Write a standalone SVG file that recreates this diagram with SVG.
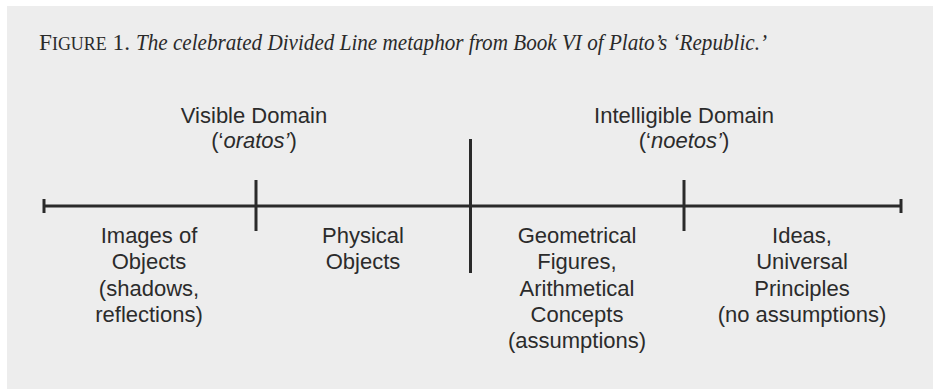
<svg xmlns="http://www.w3.org/2000/svg" width="933" height="389" viewBox="0 0 933 389">
<style>
.cap{font-family:"Liberation Serif","Times New Roman",serif;fill:#2a2a2a}
.lbl{font-family:"Liberation Sans",Arial,sans-serif;font-size:22px;fill:#2b2b2b;text-anchor:middle}
.ln{stroke:#2a2a2a;stroke-width:3;fill:none}
</style>
<rect x="0" y="0" width="933" height="389" fill="#ffffff"/>
<rect x="7" y="6" width="926" height="383" fill="#ededed"/>
<g id="caption">
<text class="cap" x="39" y="50" font-size="24" textLength="91" lengthAdjust="spacingAndGlyphs">F<tspan font-size="18.5">IGURE</tspan> 1.</text>
<text class="cap" x="136" y="50" font-size="24" font-style="italic" textLength="631" lengthAdjust="spacingAndGlyphs">The celebrated Divided Line metaphor from Book VI of Plato’s ‘Republic.’</text>
</g>
<g id="connectors">
<line class="ln" x1="44" y1="206" x2="901" y2="206"/>
<line class="ln" x1="44" y1="199" x2="44" y2="213"/>
<line class="ln" x1="901" y1="199" x2="901" y2="213"/>
<line class="ln" x1="256" y1="180" x2="256" y2="231"/>
<line class="ln" x1="470.5" y1="139" x2="470.5" y2="273"/>
<line class="ln" x1="684" y1="180" x2="684" y2="231"/>
</g>
<g id="visible-domain">
<text class="lbl" x="254" y="123">Visible Domain</text>
<text class="lbl" x="254" y="148">(‘<tspan font-style="italic">oratos’</tspan>)</text>
</g>
<g id="intelligible-domain">
<text class="lbl" x="684" y="123">Intelligible Domain</text>
<text class="lbl" x="684" y="148">(‘<tspan font-style="italic">noetos’</tspan>)</text>
</g>
<g id="images">
<text class="lbl" x="149" y="243">Images of</text>
<text class="lbl" x="149" y="269">Objects</text>
<text class="lbl" x="149" y="295.5">(shadows,</text>
<text class="lbl" x="149" y="322">reflections)</text>
</g>
<g id="physical">
<text class="lbl" x="363" y="243">Physical</text>
<text class="lbl" x="363" y="269">Objects</text>
</g>
<g id="geometrical">
<text class="lbl" x="577" y="243">Geometrical</text>
<text class="lbl" x="577" y="269">Figures,</text>
<text class="lbl" x="577" y="295.5">Arithmetical</text>
<text class="lbl" x="577" y="322">Concepts</text>
<text class="lbl" x="577" y="348">(assumptions)</text>
</g>
<g id="ideas">
<text class="lbl" x="802" y="243">Ideas,</text>
<text class="lbl" x="802" y="269">Universal</text>
<text class="lbl" x="802" y="295.5">Principles</text>
<text class="lbl" x="802" y="322">(no assumptions)</text>
</g>
</svg>
